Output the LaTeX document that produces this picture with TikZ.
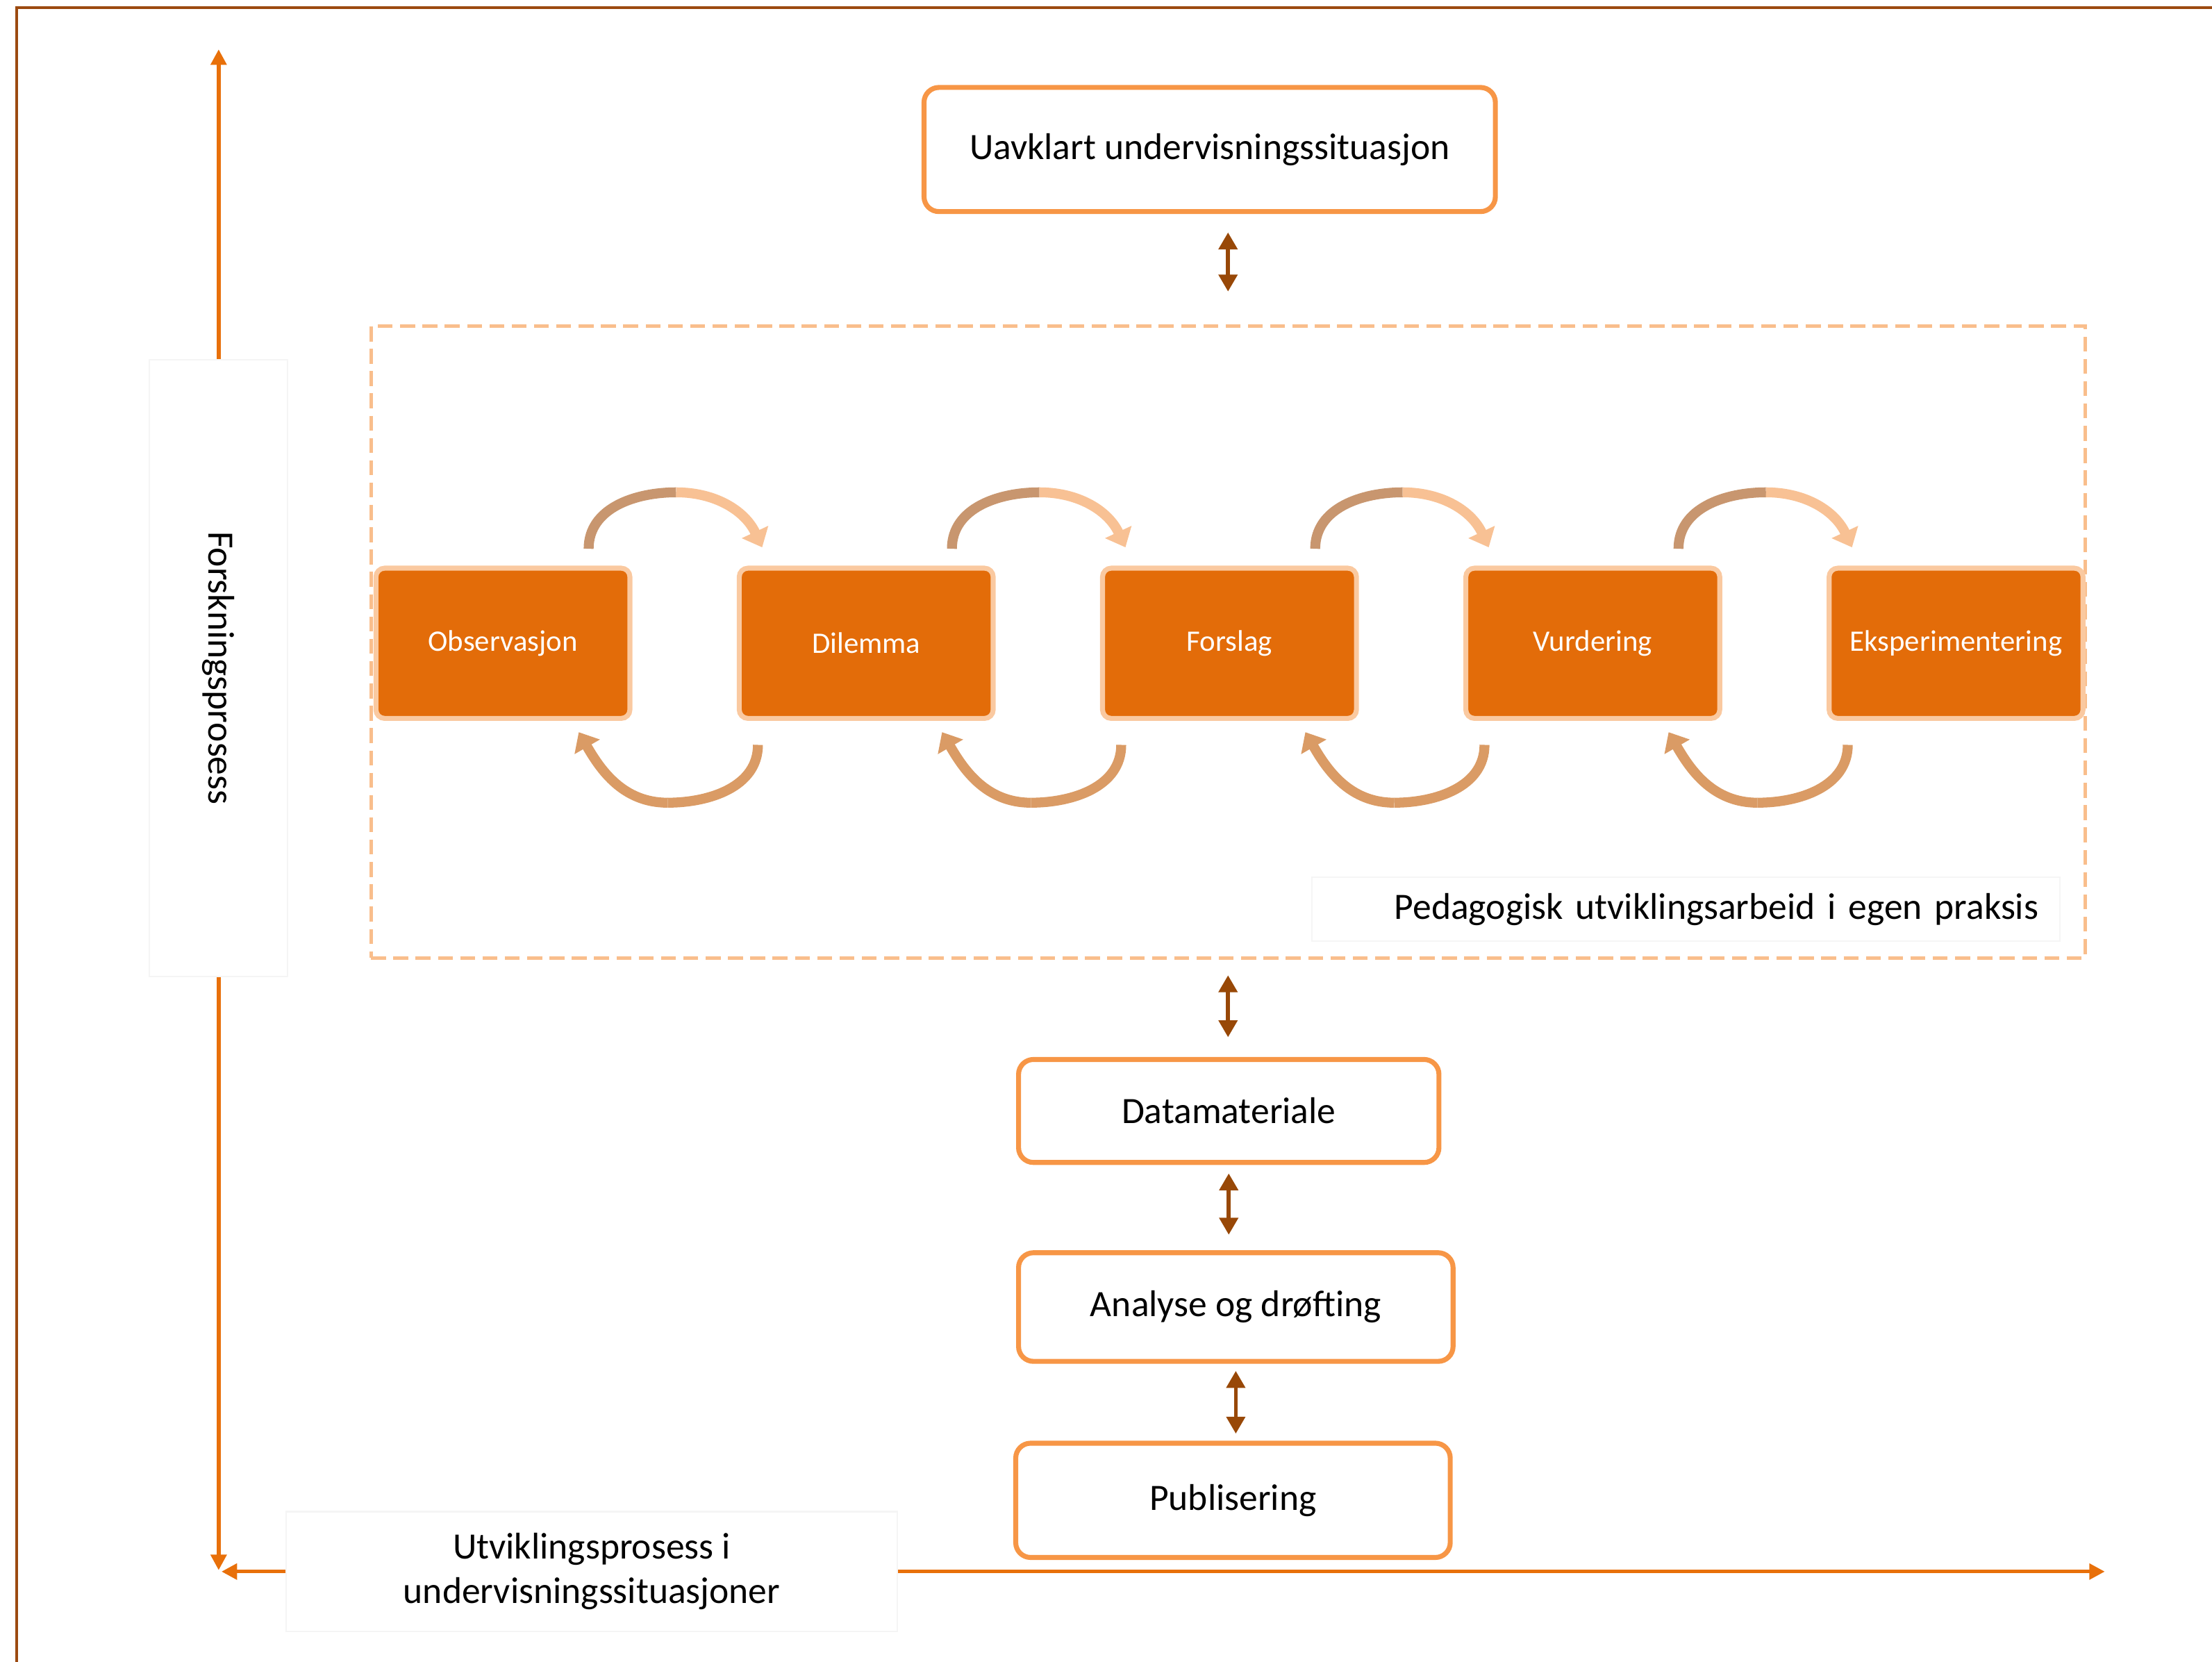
\documentclass[tikz,border=0pt]{standalone}
\usepackage{fontspec}
\setmainfont{Carlito}
\usetikzlibrary{arrows.meta, positioning, calc}
\definecolor{framebrown}{HTML}{9C4A10}
\definecolor{axisorange}{HTML}{E8700A}
\definecolor{procorange}{HTML}{E36C09}
\definecolor{procedge}{HTML}{FAC9A0}
\definecolor{boxorange}{HTML}{F79646}
\definecolor{linkbrown}{HTML}{984807}
\definecolor{dashpeach}{HTML}{F9BE8C}
\definecolor{arctan}{HTML}{C8966F}
\definecolor{arcpeach}{HTML}{F8C194}
\definecolor{arcback}{HTML}{DA9B65}
\definecolor{faintgray}{HTML}{F5F5F5}

\begin{document}
\begin{tikzpicture}[
    >=Stealth,
    node distance=1.48cm,
    procbox/.style={draw=procedge, line width=2pt, fill=procorange, rounded corners=3.5pt, minimum width=3.6cm, minimum height=2.13cm, text=white, font=\fontsize{12}{14}\selectfont},
    stagebox/.style={draw=boxorange, line width=2pt, rounded corners=6pt, fill=white, font=\fontsize{15}{18}\selectfont},
    faintbox/.style={draw=faintgray, line width=0.6pt, font=\fontsize{15}{18}\selectfont, align=center},
    linkarrow/.style={{Triangle[length=0.24cm,width=0.26cm]}-{Triangle[length=0.24cm,width=0.26cm]}, line width=1.6pt, color=linkbrown},
    axisarrow/.style={-{Triangle[length=0.22cm,width=0.22cm]}, line width=1.5pt, color=axisorange},
    arcfwd/.style={line width=4pt, color=#1},
    arctip/.style={-{Triangle[length=0.24cm,width=0.4cm]}, line width=4pt, color=#1},
]
\useasboundingbox (0,0) rectangle (31.36,23.56);

% Frame
\draw[framebrown, line width=1.1pt] (0.24,0) -- (0.24,23.45) -- (31.36,23.45);

% Starting point
\node[stagebox, minimum width=8.1cm, minimum height=1.76cm] (uav) at (17.15,21.44) {Uavklart undervisningssituasjon};

% Development work in own practice
\node[draw=dashpeach, line width=1.5pt, dash pattern=on 6pt off 3pt, minimum width=24.3cm, minimum height=8.96cm] (pua) at (17.41,14.46) {};
\node[faintbox, minimum width=10.6cm, minimum height=0.9cm, text width=10cm, align=right] (pedlbl) at (23.9,10.67) {Pedagogisk utviklingsarbeid i egen praksis};

\node[procbox] (obs) at (7.13,14.44) {Observasjon};
\node[procbox, right=of obs] (dil) {Dilemma};
\node[procbox, right=of dil] (forsl) {Forslag};
\node[procbox, right=of forsl] (vurd) {Vurdering};
\node[procbox, right=of vurd] (eksp) {Eksperimentering};

% Arcs over the boxes
\coordinate (t1) at ($(obs.north east)!0.5!(dil.north west)+(-0.12,1.04)$);
\coordinate (t2) at ($(dil.north east)!0.5!(forsl.north west)+(-0.12,1.04)$);
\coordinate (t3) at ($(forsl.north east)!0.5!(vurd.north west)+(-0.12,1.04)$);
\coordinate (t4) at ($(vurd.north east)!0.5!(eksp.north west)+(-0.12,1.04)$);
\draw[arcfwd=arctan] ([xshift=-0.62cm,yshift=0.24cm]obs.north east) to[out=90,in=180] (t1);
\draw[arctip=arcpeach] (t1) to[out=0,in=115] ([xshift=0.36cm,yshift=0.26cm]dil.north west);
\draw[arcfwd=arctan] ([xshift=-0.62cm,yshift=0.24cm]dil.north east) to[out=90,in=180] (t2);
\draw[arctip=arcpeach] (t2) to[out=0,in=115] ([xshift=0.36cm,yshift=0.26cm]forsl.north west);
\draw[arcfwd=arctan] ([xshift=-0.62cm,yshift=0.24cm]forsl.north east) to[out=90,in=180] (t3);
\draw[arctip=arcpeach] (t3) to[out=0,in=115] ([xshift=0.36cm,yshift=0.26cm]vurd.north west);
\draw[arcfwd=arctan] ([xshift=-0.62cm,yshift=0.24cm]vurd.north east) to[out=90,in=180] (t4);
\draw[arctip=arcpeach] (t4) to[out=0,in=115] ([xshift=0.36cm,yshift=0.26cm]eksp.north west);

% Arcs under the boxes
\coordinate (b1) at ($(obs.south east)!0.5!(dil.south west)+(-0.24,-1.16)$);
\coordinate (b2) at ($(dil.south east)!0.5!(forsl.south west)+(-0.24,-1.16)$);
\coordinate (b3) at ($(forsl.south east)!0.5!(vurd.south west)+(-0.24,-1.16)$);
\coordinate (b4) at ($(vurd.south east)!0.5!(eksp.south west)+(-0.24,-1.16)$);
\draw[arcfwd=arcback] ([xshift=0.3cm,yshift=-0.34cm]dil.south west) to[out=-90,in=0] (b1);
\draw[arctip=arcback] (b1) to[out=180,in=-60] ([xshift=-0.76cm,yshift=-0.16cm]obs.south east);
\draw[arcfwd=arcback] ([xshift=0.3cm,yshift=-0.34cm]forsl.south west) to[out=-90,in=0] (b2);
\draw[arctip=arcback] (b2) to[out=180,in=-60] ([xshift=-0.76cm,yshift=-0.16cm]dil.south east);
\draw[arcfwd=arcback] ([xshift=0.3cm,yshift=-0.34cm]vurd.south west) to[out=-90,in=0] (b3);
\draw[arctip=arcback] (b3) to[out=180,in=-60] ([xshift=-0.76cm,yshift=-0.16cm]forsl.south east);
\draw[arcfwd=arcback] ([xshift=0.3cm,yshift=-0.34cm]eksp.south west) to[out=-90,in=0] (b4);
\draw[arctip=arcback] (b4) to[out=180,in=-60] ([xshift=-0.76cm,yshift=-0.16cm]vurd.south east);

% Research chain
\node[stagebox, minimum width=5.96cm, minimum height=1.46cm] (data) at (17.42,7.81) {Datamateriale};
\node[stagebox, minimum width=6.16cm, minimum height=1.54cm] (ana) at (17.52,5.03) {Analyse og drøfting};
\node[stagebox, minimum width=6.16cm, minimum height=1.62cm] (pub) at (17.48,2.29) {Publisering};

\draw[linkarrow, shorten <=0.26cm, shorten >=0.46cm] (uav.south -| pua.north) -- (pua.north);
\draw[linkarrow, shorten <=0.22cm, shorten >=0.28cm] (pua.south) -- (pua.south |- data.north);
\draw[linkarrow, shorten <=0.12cm, shorten >=0.22cm] (data.south) -- (data.south |- ana.north);
\draw[linkarrow, shorten <=0.1cm, shorten >=0.1cm] (ana.south) -- (ana.south |- pub.north);

% Axes
\node[faintbox, rotate=-90, minimum width=8.74cm, minimum height=1.96cm] (forsk) at (3.1,14.09) {Forskningsprosess};
\node[faintbox, minimum width=8.66cm, minimum height=1.7cm] (utv) at (8.39,1.28) {Utviklingsprosess i\\undervisningssituasjoner};
\coordinate (ytop) at (3.1,22.86);
\coordinate (ybot) at (3.1,1.3);
\coordinate (xleft) at (3.14,1.28);
\coordinate (xright) at (29.84,1.28);
\draw[axisarrow] (forsk.west) -- (ytop);
\draw[axisarrow] (forsk.east) -- (ybot);
\draw[axisarrow] (utv.west) -- (xleft);
\draw[axisarrow] (utv.east) -- (xright);

\end{tikzpicture}
\end{document}
